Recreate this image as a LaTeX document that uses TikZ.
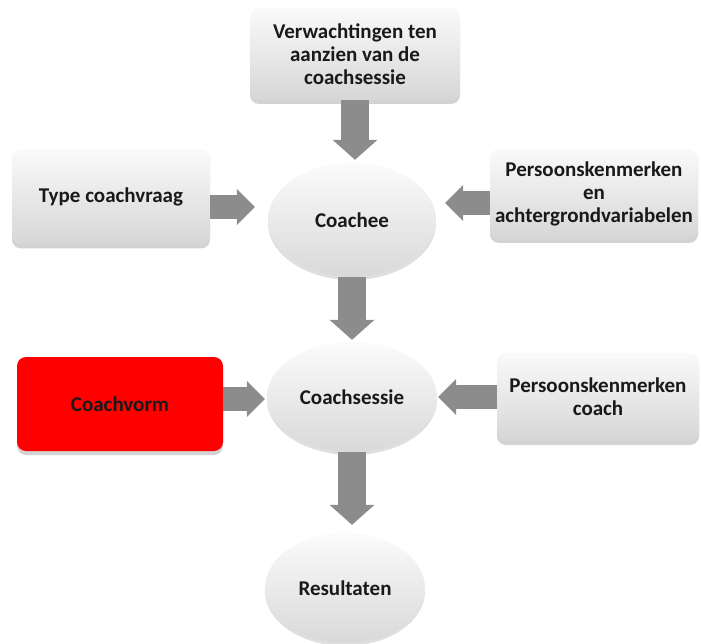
\documentclass[tikz,border=0pt]{standalone}
\usepackage{fontspec}
\setmainfont{Carlito}
\usetikzlibrary{arrows.meta,shapes.geometric,shadows}

\begin{document}
\begin{tikzpicture}[x=1pt,y=-1pt,font=\bfseries\fontsize{21}{23}\selectfont,
    box/.style={draw=none, rounded corners=9pt, align=center, text=black!90,
        top color=gray!4, bottom color=gray!32,
        drop shadow={shadow xshift=0pt, shadow yshift=-4pt, opacity=0.35}},
    oval/.style={ellipse, draw=none, align=center, text=black!90,
        top color=gray!3, bottom color=gray!30,
        drop shadow={shadow xshift=0pt, shadow yshift=-3pt, opacity=0.25}},
    vbarrow/.style={line width=28pt, draw=black!45, -{Triangle[width=45pt,length=20pt,line width=0pt]}},
    hbarrow/.style={line width=24pt, draw=black!45, -{Triangle[width=36pt,length=18pt,line width=0pt]}}]

    \useasboundingbox (0,0) rectangle (701,644);

    \node[box, minimum width=210pt, minimum height=92pt] (verw) at (355,54) {Verwachtingen ten\\aanzien van de\\coachsessie};
    \node[box, minimum width=198pt, minimum height=95pt] (typeq) at (111,197) {Type coachvraag};
    \node[box, minimum width=208pt, minimum height=90pt] (pers) at (594,194) {Persoonskenmerken\\en\\achtergrondvariabelen};
    \node[box, minimum width=206pt, minimum height=94pt, top color=red, bottom color=red] (vorm) at (120,404) {Coachvorm};
    \node[box, minimum width=202pt, minimum height=88pt] (persc) at (598,397) {Persoonskenmerken\\coach};

    \node[oval, minimum width=168pt, minimum height=114pt] (coachee) at (352,220) {Coachee};
    \node[oval, minimum width=170pt, minimum height=110pt] (sessie) at (352,397) {Coachsessie};
    \node[oval, minimum width=160pt, minimum height=110pt] (result) at (345,588) {Resultaten};

    % pijlen
    \draw[vbarrow, shorten >=3pt] (verw.south) -- (verw.south |- coachee.north);
    \draw[vbarrow, shorten >=2pt] (coachee.south) -- (coachee.south |- sessie.north);
    \draw[vbarrow, shorten >=8pt] (sessie.south) -- (sessie.south |- result.north);
    \draw[hbarrow, shorten >=13pt] ([yshift=-10pt]typeq.east) -- ([yshift=-10pt]typeq.east -| coachee.west);
    \draw[hbarrow, shorten >=9pt] ([yshift=-9pt]pers.west) -- ([yshift=-9pt]pers.west -| coachee.east);
    \draw[hbarrow, shorten >=2pt] ([yshift=5pt]vorm.east) -- ([yshift=5pt]vorm.east -| sessie.west);
    \draw[hbarrow, shorten >=1pt] (persc.west) -- (persc.west -| sessie.east);
\end{tikzpicture}
\end{document}
